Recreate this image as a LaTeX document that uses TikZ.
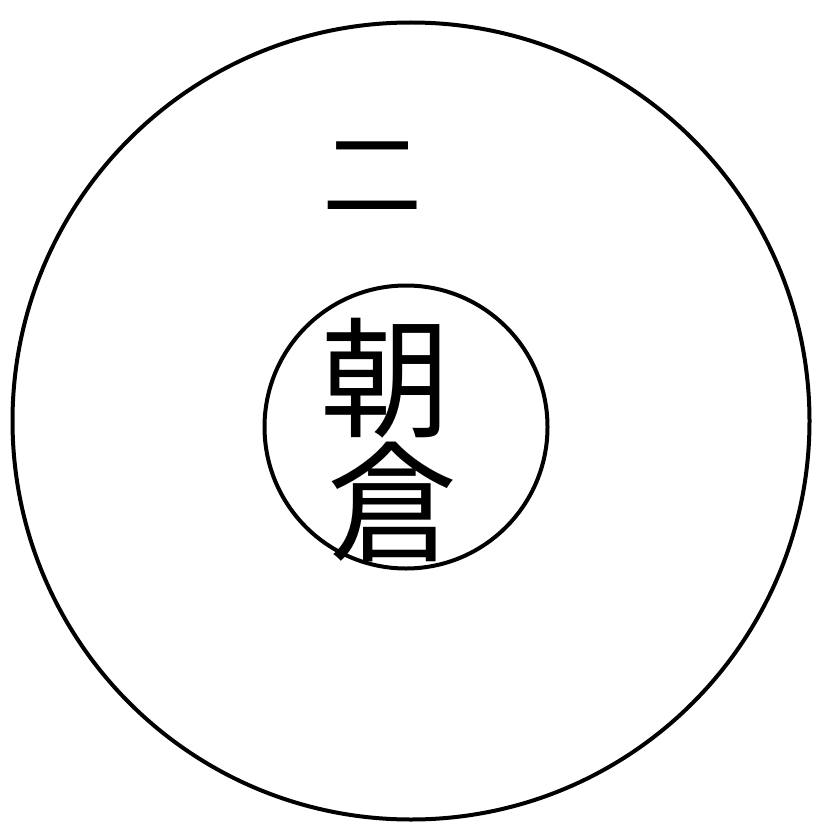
\documentclass[tikz,border=0pt]{standalone}
\usepackage{fontspec}
\newfontfamily\cjk{Noto Sans CJK JP}
\tikzset{ring/.style={draw=black,line width=4pt},
 glyph/.style={inner sep=0pt}}
\begin{document}
\begin{tikzpicture}[x=1pt,y=-1pt]
\useasboundingbox (0,0) rectangle (819,832);
\node[ring,circle,minimum size=797pt,inner sep=0pt] (outer) at (411,421) {};
\node[ring,circle,minimum size=283pt,inner sep=0pt] (inner) at (406,427) {};
\node[glyph,font=\cjk\fontsize{100}{100}\selectfont] (two) at (372,177) {二};
\node[glyph,font=\cjk\fontsize{130}{130}\selectfont] (a) at (385,378) {朝};
\node[glyph,font=\cjk\fontsize{130}{130}\selectfont] (b) at (392,502) {倉};
\end{tikzpicture}
\end{document}
